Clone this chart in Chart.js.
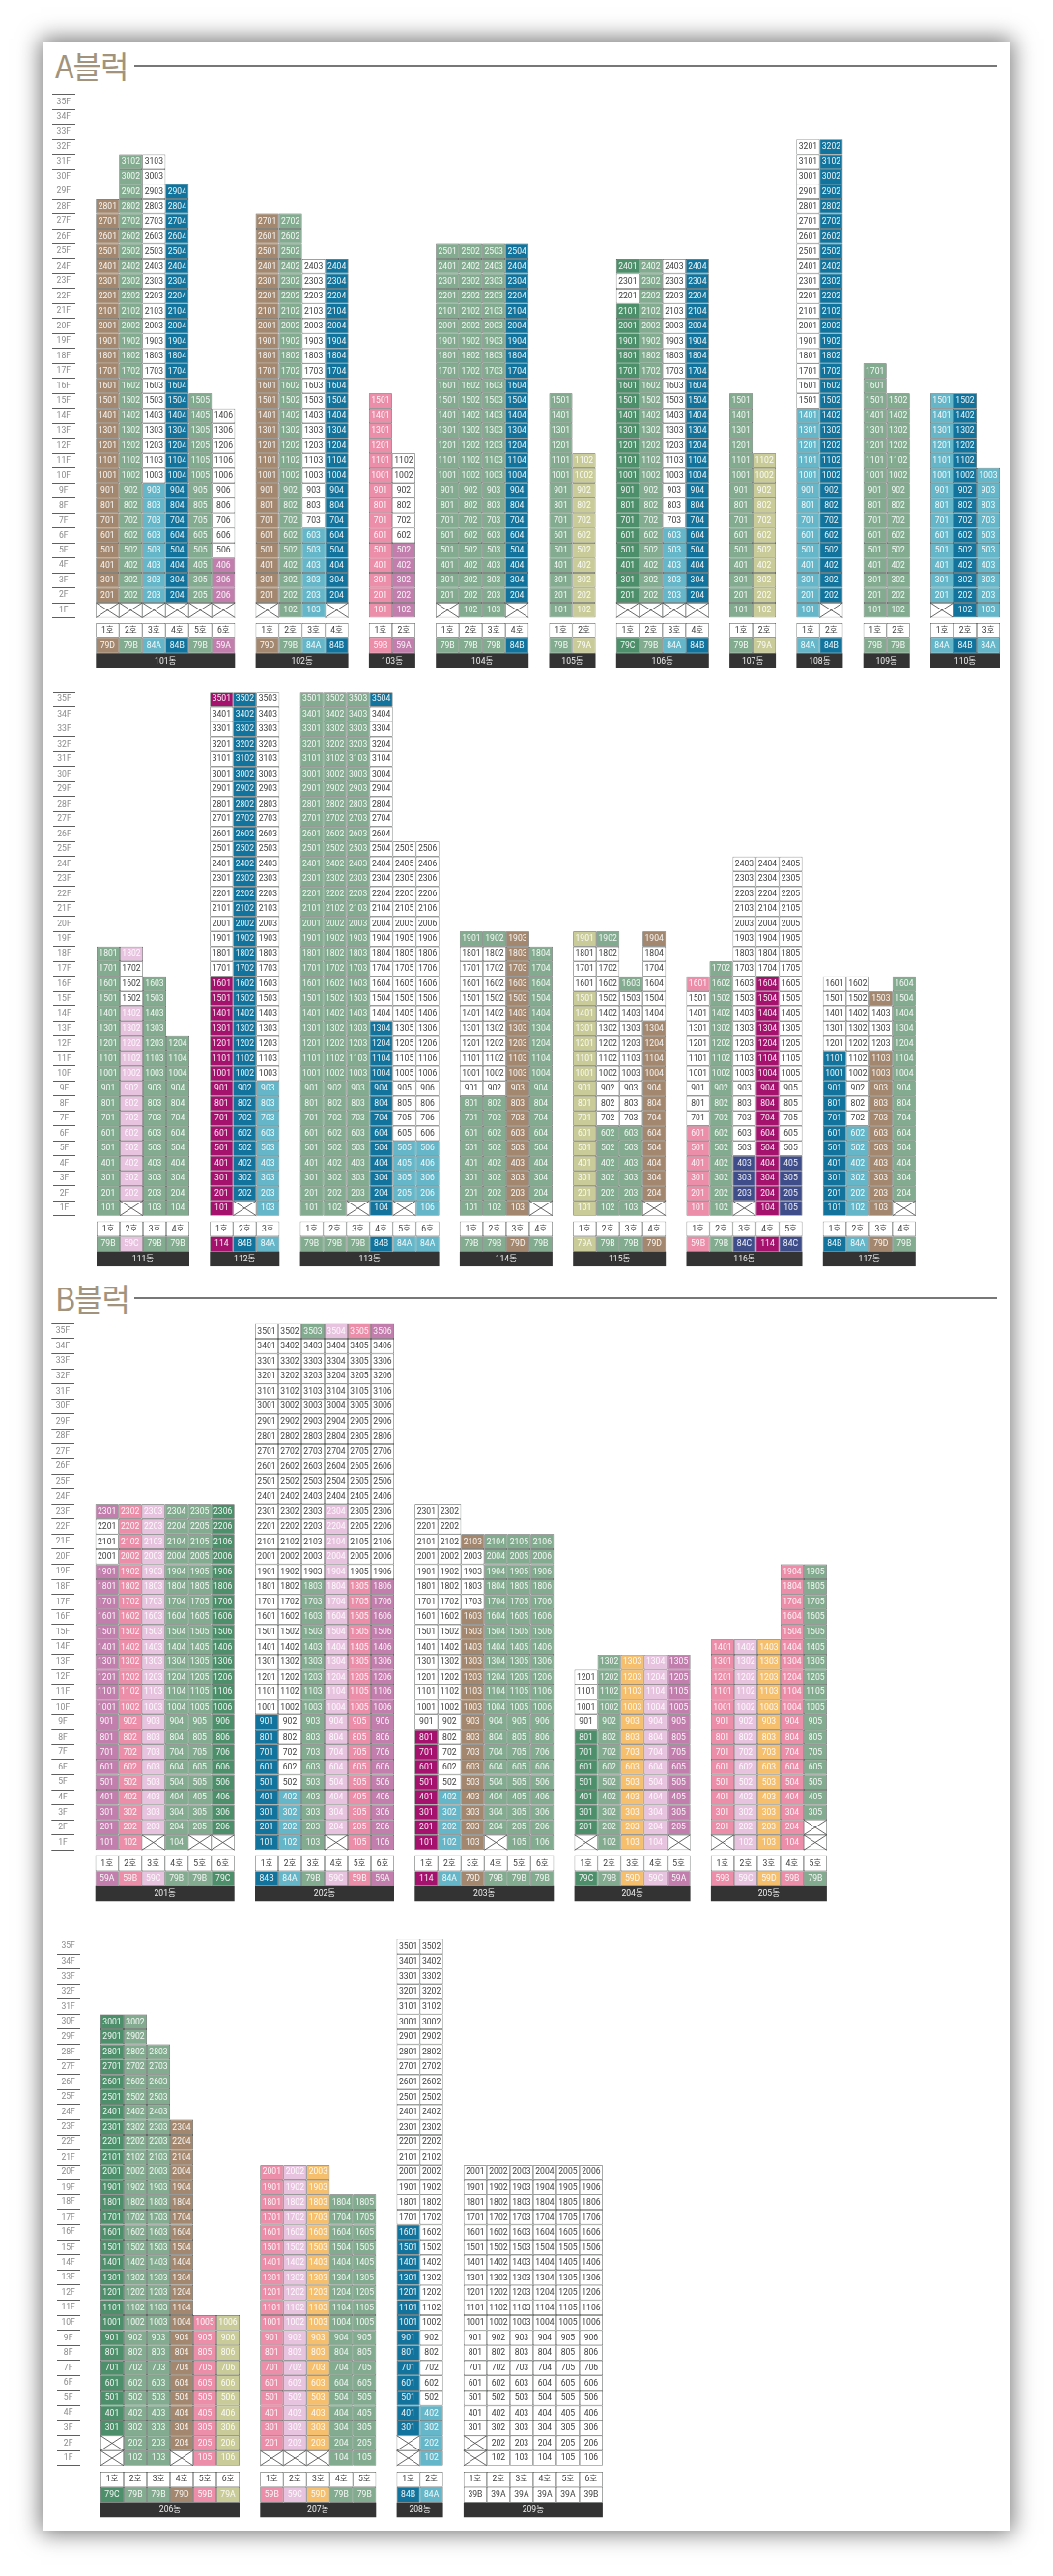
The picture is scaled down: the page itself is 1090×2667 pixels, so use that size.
<!DOCTYPE html>
<html lang="ko"><head><meta charset="utf-8">
<script src="https://cdn.jsdelivr.net/npm/chart.js@4"></script>
<style>
html,body{margin:0;padding:0;background:#fff;}
body{position:relative;width:1090px;height:2667px;overflow:hidden;}
#panel{position:absolute;left:45px;top:43px;width:1000px;height:2577px;background:#fff;box-shadow:0 0 22px 3px rgba(0,0,0,.55);}
canvas{position:absolute;left:0;display:block;}
.head{position:absolute;left:57px;font:400 32px/40px "Noto Sans CJK KR",sans-serif;color:#a1937c;letter-spacing:-1px;}
.rule{position:absolute;left:139px;width:893px;height:1.5px;background:#777;}
</style></head><body>
<div id="panel"></div>
<div class="head" style="top:47px">A블럭</div><div class="rule" style="top:67px"></div>
<div class="head" style="top:1323px">B블럭</div><div class="rule" style="top:1343px"></div>
<script>
// ---- floors on the axis, top to bottom
const floorLabels = ['35F','34F','33F','32F','31F','30F','29F','28F','27F','26F','25F','24F','23F','22F','21F','20F','19F','18F','17F','16F','15F','14F','13F','12F','11F','10F','9F','8F','7F','6F','5F','4F','3F','2F','1F'];
const tableRows = ['호','타입','동'];

// ---- unit type per line, then each line as runs of  type:fromFloor-toFloor  (W = plain, X = no unit)
const units101 = ['79D','79B','84A','84B','79B','59A'];
const floors101 = ['X:1-1 79D:2-28','X:1-1 79B:2-31','X:1-1 84A:2-9 W:10-31','X:1-1 84B:2-29','X:1-1 79B:2-15','X:1-1 59A:2-4 W:5-14'];
const units102 = ['79D','79B','84A','84B'];
const floors102 = ['X:1-1 79D:2-27','79B:1-27','84A:1-6 W:7-24','X:1-1 84B:2-24'];
const units103 = ['59B','59A'];
const floors103 = ['59B:1-15','59A:1-5 W:6-11'];
const units104 = ['79B','79B','79B','84B'];
const floors104 = ['X:1-1 79B:2-25','79B:1-25','79B:1-25','X:1-1 84B:2-25'];
const units105 = ['79B','79A'];
const floors105 = ['79B:1-15','79A:1-11'];
const units106 = ['79C','79B','84A','84B'];
const floors106 = ['X:1-1 79C:2-21 W:22-23 79C:24-24','X:1-1 79B:2-24','X:1-1 84A:2-6 W:7-24','X:1-1 84B:2-24'];
const units107 = ['79B','79A'];
const floors107 = ['79B:1-15','79A:1-11'];
const units108 = ['84A','84B'];
const floors108 = ['84A:1-14 W:15-32','X:1-1 84B:2-32'];
const units109 = ['79B','79B'];
const floors109 = ['79B:1-17','79B:1-15'];
const units110 = ['84A','84B','84A'];
const floors110 = ['X:1-1 84A:2-15','84B:1-15','84A:1-10'];

const units111 = ['79B','59C','79B','79B'];
const floors111 = ['79B:1-18','X:1-1 59C:2-14 W:15-17 59C:18-18','79B:1-16','79B:1-12'];
const units112 = ['114','84B','84A'];
const floors112 = ['114:1-16 W:17-34 114:35-35','X:1-1 84B:2-35','84A:1-9 W:10-35'];
const units113 = ['79B','79B','79B','84B','84A','84A'];
const floors113 = ['79B:1-35','79B:1-35','X:1-1 79B:2-35','84B:1-13 W:14-34 84B:35-35','X:1-1 84A:2-5 W:6-25','84A:1-5 W:6-25'];
const units114 = ['79B','79B','79D','79B'];
const floors114 = ['79B:1-8 W:9-18 79B:19-19','79B:1-8 W:9-18 79B:19-19','79D:1-19','X:1-1 79B:2-18'];
const units115 = ['79A','79B','79B','79D'];
const floors115 = ['79A:1-15 W:16-18 79A:19-19','79B:1-6 W:7-18 79B:19-19','79B:1-6 W:7-15 79B:16-16','X:1-1 79D:2-13 W:14-18 79D:19-19'];
const units116 = ['59B','79B','84C','114','84C'];
const floors116 = ['59B:1-6 W:7-15 59B:16-16','79B:1-17','X:1-1 84C:2-4 W:5-24','114:1-16 W:17-24','84C:1-4 W:5-24'];
const units117 = ['84B','84A','79D','79B'];
const floors117 = ['84B:1-11 W:12-16','84A:1-6 W:7-16','79D:1-11 W:12-14 79D:15-15','X:1-1 79B:2-16'];

const units201 = ['59A','59B','59C','79B','79B','79C'];
const floors201 = ['59A:1-19 W:20-22 59A:23-23','59B:1-23','X:1-1 59C:2-23','79B:1-23','X:1-1 79B:2-23','X:1-1 79C:2-23'];
const units202 = ['84B','84A','79B','59C','59B','59A'];
const floors202 = ['84B:1-9 W:10-35','84A:1-4 W:5-35','79B:1-18 W:19-34 79B:35-35','X:1-1 59C:2-23 W:24-34 59C:35-35','59B:1-18 W:19-34 59B:35-35','59A:1-18 W:19-34 59A:35-35'];
const units203 = ['114','84A','79D','79B','79B','79B'];
const floors203 = ['114:1-8 W:9-23','84A:1-4 W:5-23','79D:1-16 W:17-20 79D:21-21','X:1-1 79B:2-21','79B:1-21','79B:1-21'];
const units204 = ['79C','79B','59D','59C','59A'];
const floors204 = ['X:1-1 79C:2-8 W:9-12','79B:1-13','59D:1-13','59C:1-13','X:1-1 59A:2-13'];
const units205 = ['59B','59C','59D','59B','79B'];
const floors205 = ['X:1-1 59B:2-14','59C:1-14','59D:1-14','59B:1-19','X:1-2 79B:3-19'];

const units206 = ['79C','79B','79B','79D','59B','79A'];
const floors206 = ['X:1-2 79C:3-30','79B:1-30','79B:1-28','X:1-1 79D:2-23','59B:1-10','79A:1-10'];
const units207 = ['59B','59C','59D','79B','79B'];
const floors207 = ['X:1-1 59B:2-20','X:1-1 59C:2-20','X:1-1 59D:2-20','79B:1-18','79B:1-18'];
const units208 = ['84B','84A'];
const floors208 = ['X:1-2 84B:3-16 W:17-35','84A:1-4 W:5-35'];
const units209 = ['39B','39A','39A','39A','39A','39B'];
const floors209 = ['X:1-2 W:3-20','W:1-20','W:1-20','W:1-20','W:1-20','W:1-20'];

// ---- one group of buildings on one shared floor axis
const group1 = [[101,units101,floors101],[102,units102,floors102],[103,units103,floors103],[104,units104,floors104],[105,units105,floors105],[106,units106,floors106],[107,units107,floors107],[108,units108,floors108],[109,units109,floors109],[110,units110,floors110]];
const group2 = [[111,units111,floors111],[112,units112,floors112],[113,units113,floors113],[114,units114,floors114],[115,units115,floors115],[116,units116,floors116],[117,units117,floors117]];
const group3 = [[201,units201,floors201],[202,units202,floors202],[203,units203,floors203],[204,units204,floors204],[205,units205,floors205]];
const group4 = [[206,units206,floors206],[207,units207,floors207],[208,units208,floors208],[209,units209,floors209]];

// ---- styles
const palette = {'79D':'#a3886f','79B':'#83ab8f','79C':'#4c8f6a','79A':'#c9cc98','84A':'#65b6c8','84B':'#12749c','84C':'#3f4d8a','59A':'#c27fae','59B':'#ec8da9','59C':'#e8c3df','59D':'#f5bf6e','114':'#a5126e','39A':'#ffffff','39B':'#ffffff','W':'#ffffff','X':'#ffffff','name':'#333333'};
const layouts = [
  {rows:group1, axisL:54, axisR:78,   origin:99.3, top:97.7,   bottom:639.5,  tTop:645,    tBottom:692},
  {rows:group2, axisL:55, axisR:78.3, origin:100,  top:716.2,  bottom:1258.7, tTop:1264.6, tBottom:1311.2},
  {rows:group3, axisL:53.3,axisR:77,  origin:98.7, top:1370.4, bottom:1915.3, tTop:1921.4, tBottom:1968.6},
  {rows:group4, axisL:59, axisR:82.7, origin:104,  top:2007.5, bottom:2552.8, tTop:2559,   tBottom:2606.5}
];
const COL = 24, GAP = 21.3 / 24, PAGE_W = 1090;
const TEXT_FONT = '8.6px Roboto, "Noto Sans CJK KR", sans-serif';

const cellLabels = {
  id:'cellLabels',
  afterDatasetsDraw(chart){
    const ctx = chart.ctx;
    ctx.save();
    ctx.textAlign='center'; ctx.textBaseline='middle'; ctx.font=TEXT_FONT;
    chart.data.datasets.forEach((ds,di)=>{
      chart.getDatasetMeta(di).data.forEach((el,i)=>{
        const raw = ds.data[i];
        const {x,y,base,height} = el.getProps(['x','y','base','height'],true);
        if(raw.type==='X'){
          ctx.strokeStyle='#555'; ctx.lineWidth=.9;
          ctx.beginPath();
          ctx.moveTo(base,y-height/2); ctx.lineTo(x,y+height/2);
          ctx.moveTo(base,y+height/2); ctx.lineTo(x,y-height/2);
          ctx.stroke();
          return;
        }
        const plain = palette[raw.type]==='#ffffff';
        ctx.fillStyle = plain ? '#3c3c3c' : 'rgba(255,255,255,.92)';
        ctx.fillText(raw.label,(x+base)/2,y+.3);
      });
    });
    ctx.restore();
  }
};

function runsToCells(no,col,x0,runs){
  const out=[];
  runs.split(' ').forEach(run=>{
    const [type,range]=run.split(':');
    const [from,to]=range.split('-').map(Number);
    for(let f=from;f<=to;f++){
      out.push({y:f+'F',x:[x0+col,x0+col+1],type,label:type==='X'?'':String(f*100+col+1)});
    }
  });
  return out;
}
function barDataset(data){
  return {data,grouped:false,barPercentage:1,categoryPercentage:1,borderSkipped:false,inflateAmount:0,
    borderWidth:ctx=>ctx.raw&&ctx.raw.type==='name'?0:.7,
    borderColor:'rgba(40,45,42,.8)',
    backgroundColor:ctx=>ctx.raw?palette[ctx.raw.type]:'#fff'};
}
function addCanvas(top,height){
  const c=document.createElement('canvas');
  c.width=PAGE_W;c.height=height;c.style.top=top+'px';c.style.width=PAGE_W+'px';c.style.height=height+'px';
  document.body.appendChild(c);
  return c;
}
function xScale(L){
  const min=(L.axisR-L.origin)/COL;
  return {type:'linear',display:false,min,max:min+(PAGE_W-L.axisR)/COL};
}
function baseOptions(L,padding){
  return {responsive:false,animation:false,devicePixelRatio:1,indexAxis:'y',layout:{padding},
    plugins:{legend:{display:false},tooltip:{enabled:false}},events:[]};
}

layouts.forEach(L=>{
  // building positions follow from line counts and the gap between buildings
  let cursor=0; const floorSets=[], tableSets=[];
  L.rows.forEach(([no,units,lines])=>{
    const x0=cursor;
    lines.forEach((runs,col)=>floorSets.push(barDataset(runsToCells(no,col,x0,runs))));
    const t=[];
    units.forEach((u,col)=>{
      t.push({y:'호',x:[x0+col,x0+col+1],type:'W',label:(col+1)+'호'});
      t.push({y:'타입',x:[x0+col,x0+col+1],type:u,label:u});
    });
    t.push({y:'동',x:[x0,x0+units.length],type:'name',label:no+'동'});
    tableSets.push(barDataset(t));
    cursor+=units.length+GAP;
  });

  const cTop=Math.floor(L.top)-1, cH=Math.ceil(L.bottom)-cTop+2;
  new Chart(addCanvas(cTop,cH),{type:'bar',plugins:[cellLabels],
    data:{labels:floorLabels,datasets:floorSets},
    options:{...baseOptions(L,{top:L.top-cTop,bottom:cTop+cH-L.bottom}),
      scales:{
        x:xScale(L),
        y:{type:'category',offset:true,position:'left',
          afterFit(s){s.width=L.axisR;},
          border:{display:false},
          grid:{offset:true,drawOnChartArea:false,drawTicks:true,tickLength:L.axisR-L.axisL,tickWidth:1,tickColor:'#5f5f5f'},
          ticks:{autoSkip:false,maxRotation:0,crossAlign:'center',padding:-(L.axisR-L.axisL)/2-7,color:'#8a8a8a',font:{family:'Roboto',size:8.6}}}
      }}});

  const tTop=Math.floor(L.tTop)-1, tH=Math.ceil(L.tBottom)-tTop+2;
  new Chart(addCanvas(tTop,tH),{type:'bar',plugins:[cellLabels],
    data:{labels:tableRows,datasets:tableSets},
    options:{...baseOptions(L,{left:L.axisR,top:L.tTop-tTop,bottom:tTop+tH-L.tBottom}),
      scales:{x:xScale(L),y:{type:'category',offset:true,display:false}}}});
});
</script>
</body></html>
